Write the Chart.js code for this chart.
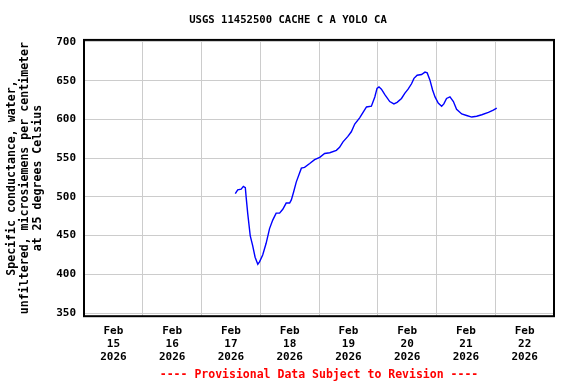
<!DOCTYPE html>
<html>
<head>
<meta charset="utf-8">
<script src="https://cdn.jsdelivr.net/npm/chart.js@4/dist/chart.umd.min.js"></script>
<style>
  html, body { margin: 0; padding: 0; background: #fff; }
  #wrap { width: 576px; height: 384px; }
</style>
</head>
<body>
<div id="wrap"><canvas id="chart" width="576" height="384"></canvas></div>
<script>
// hours since Feb 15 2026 00:00
const hours = [
    61.8, 62.8, 64.2, 65.1, 65.9, 66.2, 66.9, 67.9, 68.9, 69.9,
    71.0, 71.7, 73.0, 74.4, 75.8, 77.1, 78.5, 79.9, 81.2, 82.6,
    84.0, 84.7, 85.6, 86.7, 88.1, 88.8, 90.1, 92.2, 94.2, 96.3,
    98.3, 100.4, 103.1, 104.4, 105.8, 107.8, 109.2, 110.6, 112.6, 114.0,
    115.4, 117.4, 118.8, 119.7, 120.5, 121.5, 122.9, 124.9, 126.6, 127.9,
    129.7, 131.1, 132.4, 133.8, 134.8, 136.1, 137.9, 139.3, 140.2, 141.3,
    142.4, 143.4, 144.7, 146.1, 147.0, 148.1, 149.5, 150.9, 152.2, 154.3,
    156.3, 158.4, 160.4, 162.5, 165.2, 167.2, 168.6
];
// specific conductance, uS/cm at 25 C
const conductance = [
    504, 509, 510, 513.5, 512, 501, 478, 450, 437, 422,
    413, 416, 425, 440, 459, 470, 479, 479, 484, 492,
    492, 496, 506, 519, 531, 537, 538, 543, 548, 551,
    556, 557, 560, 564, 571, 578, 584, 594, 602, 609,
    616, 617, 629, 640, 642, 639, 632, 623, 620, 622,
    627, 634, 639, 646, 653, 657, 658, 661, 660, 651,
    638, 629, 621, 617, 620, 627, 629, 623, 613, 607,
    605, 603, 604, 606, 609, 612, 614.5
];

const dayNumbers = ['15', '16', '17', '18', '19', '20', '21', '22'];
const tickMonth = 'Feb';
const tickYear = '2026';
const yTicks = [350, 400, 450, 500, 550, 600, 650, 700];

const monoBold = { family: '"DejaVu Sans Mono", monospace', weight: 'bold', size: 11, lineHeight: 1.2 };

// black box round the plot area
const frame = {
    id: 'frame',
    afterDraw(chart) {
        const { ctx, chartArea } = chart;
        ctx.save();
        ctx.strokeStyle = '#000';
        ctx.lineWidth = 2;
        ctx.strokeRect(chartArea.left, chartArea.top, chartArea.right - chartArea.left, chartArea.bottom - chartArea.top);
        ctx.restore();
    }
};

const points = hours.map((h, i) => ({ x: h, y: conductance[i] }));

new Chart(document.getElementById('chart').getContext('2d'), {
    type: 'line',
    data: {
        datasets: [{
            data: points,
            borderColor: '#0000ff',
            borderWidth: 1.4,
            pointRadius: 0,
            tension: 0,
            fill: false
        }]
    },
    options: {
        responsive: false,
        animation: false,
        layout: { padding: 0 },
        plugins: {
            legend: { display: false },
            tooltip: { enabled: false },
            title: {
                display: true,
                text: 'USGS 11452500 CACHE C A YOLO CA',
                color: '#000',
                font: { family: '"DejaVu Sans Mono", monospace', weight: 'bold', size: 10.6, lineHeight: 1.2 },
                padding: { top: 13.6, bottom: 13.6 }
            },
            subtitle: {
                display: true,
                position: 'bottom',
                fullSize: false,
                text: '---- Provisional Data Subject to Revision ----',
                color: '#ff0000',
                font: { family: '"DejaVu Sans Mono", monospace', weight: 'bold', size: 11.5, lineHeight: 1.2 },
                padding: { top: 0, bottom: 2 }
            }
        },
        scales: {
            x: {
                type: 'linear',
                min: 0,
                max: 192,
                afterBuildTicks: (scale) => {
                    const t = [];
                    for (let h = 0; h <= 192; h += 12) t.push({ value: h });
                    scale.ticks = t;
                },
                afterFit: (scale) => { scale.height = 52; },
                border: { display: false },
                grid: {
                    drawTicks: false,
                    color: (c) => (c.tick && c.tick.value % 24 === 0) ? '#cccccc' : 'rgba(0,0,0,0)',
                    lineWidth: 1
                },
                ticks: {
                    autoSkip: false,
                    maxRotation: 0,
                    padding: 8,
                    color: '#000',
                    font: monoBold,
                    callback: (v) => {
                        if (v % 24 !== 12) return '';
                        const d = Math.floor(v / 24);
                        return [tickMonth, dayNumbers[d], tickYear];
                    }
                }
            },
            y: {
                min: 345.9,
                max: 702.6,
                afterBuildTicks: (scale) => { scale.ticks = yTicks.map(v => ({ value: v })); },
                afterFit: (scale) => { scale.width = 84; },
                border: { display: false },
                grid: { drawTicks: false, color: '#cccccc', lineWidth: 1 },
                ticks: { padding: 8, color: '#000', font: monoBold },
                title: {
                    display: true,
                    text: ['Specific conductance, water,', 'unfiltered, microsiemens per centimeter', 'at 25 degrees Celsius'],
                    color: '#000',
                    font: { family: '"DejaVu Sans Mono", monospace', weight: 'bold', size: 11.6, lineHeight: 1.15 },
                    padding: { top: 5, bottom: 0 }
                }
            },
            // empty right-hand strip so the title stays centred on the whole canvas
            yRight: {
                position: 'right',
                min: 0,
                max: 1,
                afterFit: (scale) => { scale.width = 22; },
                border: { display: false },
                grid: { display: false },
                ticks: { display: false }
            }
        }
    },
    plugins: [frame]
});
</script>
</body>
</html>
